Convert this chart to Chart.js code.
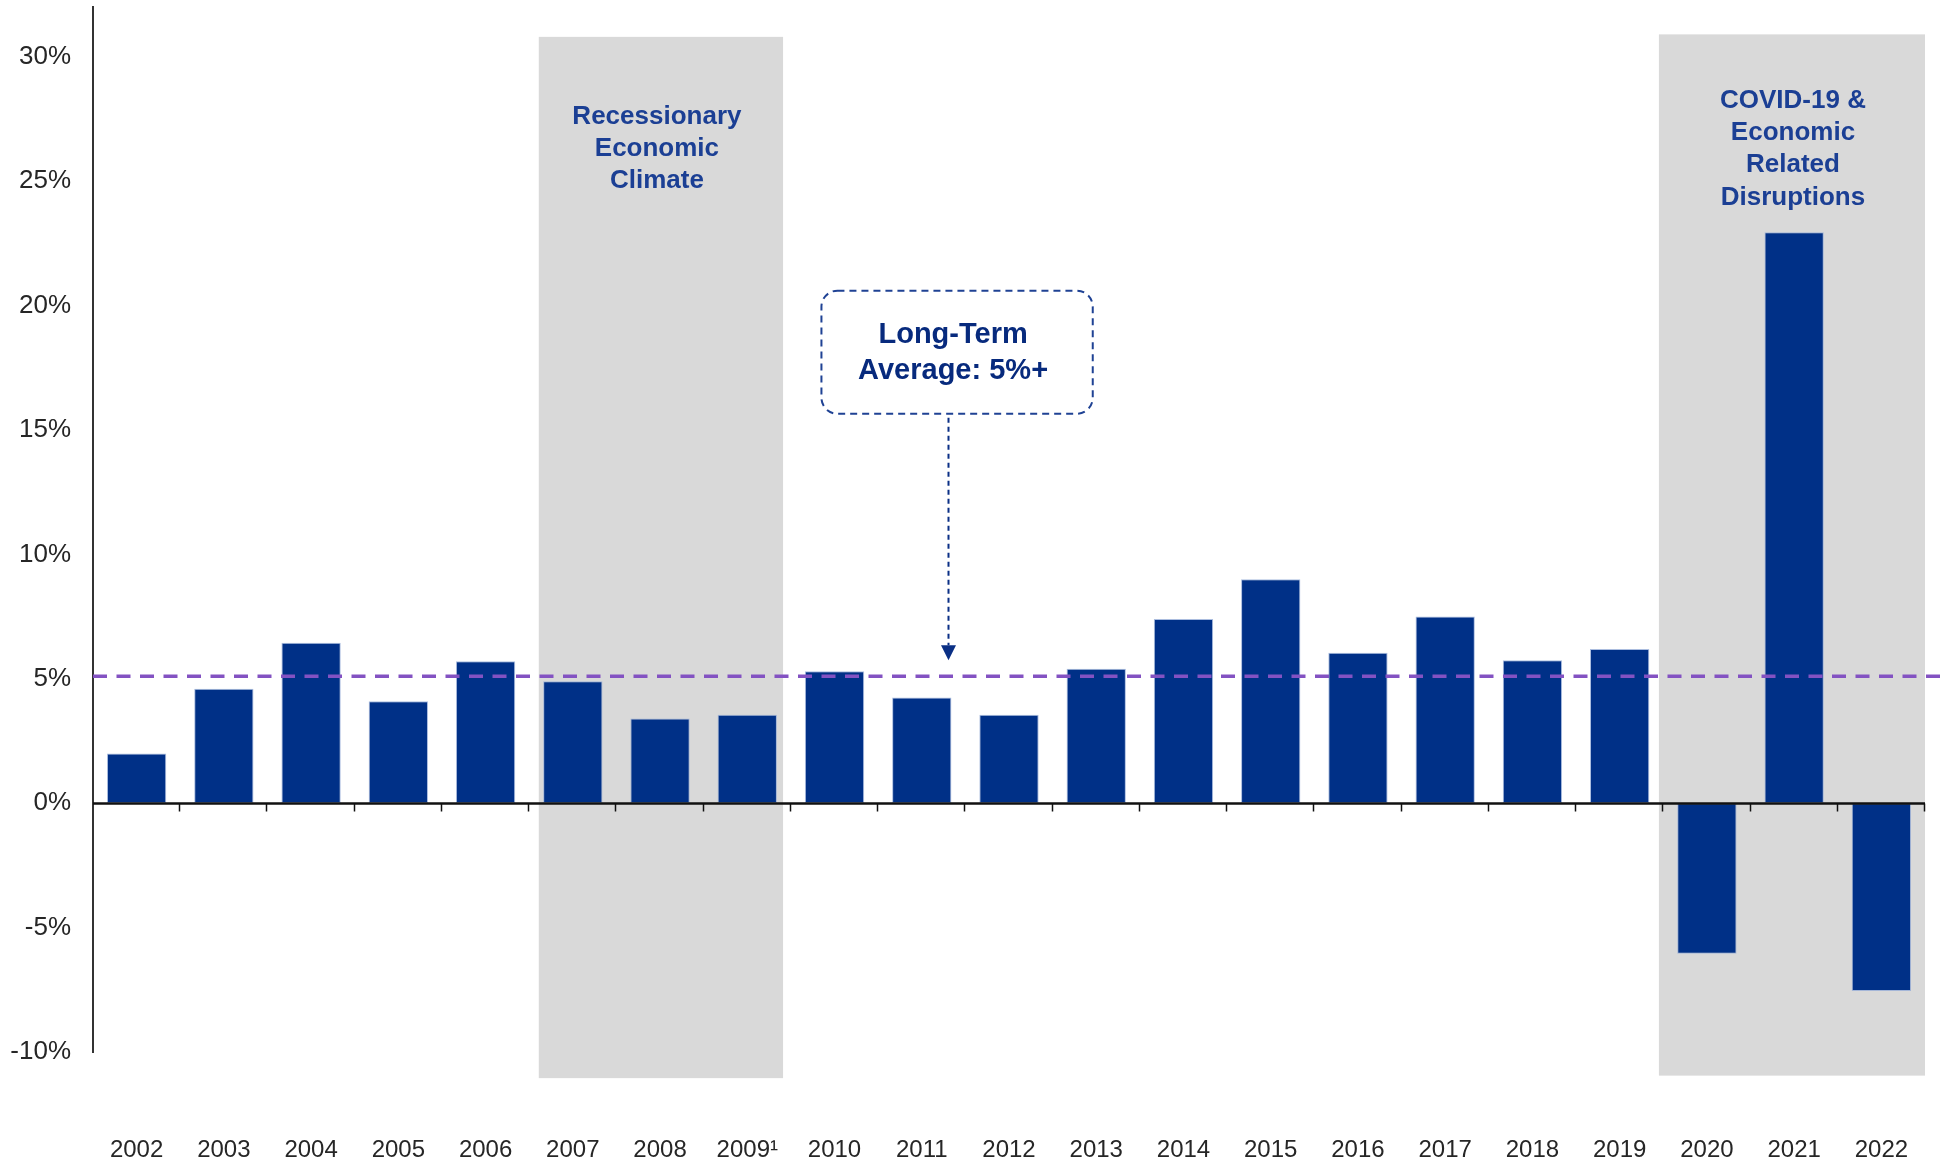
<!DOCTYPE html>
<html>
<head>
<meta charset="utf-8">
<title>Annual growth</title>
<script src="https://cdn.jsdelivr.net/npm/chart.js@4.4.1/dist/chart.umd.min.js"></script>
<style>
  html, body { margin: 0; padding: 0; background: #ffffff; }
  #wrap { width: 1946px; height: 1165px; position: relative; }
</style>
</head>
<body>
<div id="wrap"><canvas id="growthChart"></canvas></div>
<script>
// Données
const years = ['2002', '2003', '2004', '2005', '2006', '2007', '2008', '2009\u00b9', '2010', '2011',
    '2012', '2013', '2014', '2015', '2016', '2017', '2018', '2019', '2020', '2021', '2022'];
const growth = [2.0, 4.6, 6.45, 4.1, 5.7, 4.9, 3.4, 3.55, 5.3, 4.25,
    3.55, 5.4, 7.4, 9.0, 6.05, 7.5, 5.75, 6.2, -6.05, 22.95, -7.55];
const yTickValues = [-10, -5, 0, 5, 10, 15, 20, 25, 30];
const longTermAvg = 5.1;

// Zones grisées (années concernées) et leurs textes
const recessionYears = ['2007', '2008', '2009\u00b9'];
const recessionText = ['Recessionary', 'Economic', 'Climate'];
const covidYears = ['2020', '2021', '2022'];
const covidText = ['COVID-19 &', 'Economic', 'Related', 'Disruptions'];
const avgText = ['Long-Term', 'Average: 5%+'];

const fontFamily = 'Arial, "Liberation Sans", sans-serif';

// helper : position x (fractionnaire) sur l'axe des catégories
function xAt(x, v) {
    const step = x.getPixelForValue(1) - x.getPixelForValue(0);
    return x.getPixelForValue(0) + v * step;
}

// Bandes grises derrière les barres
const bandsPlugin = {
    id: 'bands',
    beforeDatasetsDraw(chart) {
        const { ctx, scales: { x, y } } = chart;
        ctx.save();
        ctx.fillStyle = '#d9d9d9';
        // récession
        let i0 = years.indexOf(recessionYears[0]);
        let i1 = years.indexOf(recessionYears[recessionYears.length - 1]);
        let l = xAt(x, i0 - 0.39), r = xAt(x, i1 + 0.41);
        let t = y.getPixelForValue(30.8), b = y.getPixelForValue(-11.05);
        ctx.fillRect(l, t, r - l, b - t);
        ctx.fillStyle = '#1b3f94';
        ctx.font = 'bold 26px ' + fontFamily;
        ctx.textAlign = 'center';
        ctx.textBaseline = 'middle';
        let cx = (l + r) / 2 - 4;
        let ty = y.getPixelForValue(27.6);
        recessionText.forEach(function (s, k) { ctx.fillText(s, cx, ty + k * 32); });

        // covid
        ctx.fillStyle = '#d9d9d9';
        i0 = years.indexOf(covidYears[0]);
        i1 = years.indexOf(covidYears[covidYears.length - 1]);
        l = xAt(x, i0 - 0.55);
        r = xAt(x, i1 + 0.5);
        t = y.getPixelForValue(30.9);
        b = y.getPixelForValue(-10.95);
        ctx.fillRect(l, t, r - l, b - t);
        ctx.fillStyle = '#1b3f94';
        cx = (l + r) / 2 + 1;
        ty = y.getPixelForValue(28.23);
        covidText.forEach(function (s, k) { ctx.fillText(s, cx, ty + k * 32.2); });
        ctx.restore();
    }
};

// Ligne de zéro avec graduations, moyenne long terme, encadré + flèche
const overlayPlugin = {
    id: 'overlay',
    afterDatasetsDraw(chart) {
        const { ctx, scales: { x, y } } = chart;
        const area = chart.chartArea;
        ctx.save();

        // ligne zéro
        const y0 = Math.round(y.getPixelForValue(0)) + 0.5;
        ctx.strokeStyle = '#111111';
        ctx.lineWidth = 2.5;
        ctx.beginPath();
        ctx.moveTo(area.left, y0);
        ctx.lineTo(area.right, y0);
        ctx.stroke();
        ctx.lineWidth = 1.5;
        for (let i = 1; i <= years.length; i++) {
            const px = Math.round(xAt(x, i - 0.5)) - 0.5;
            ctx.beginPath();
            ctx.moveTo(px, y0);
            ctx.lineTo(px, y0 + 8);
            ctx.stroke();
        }

        // moyenne long terme (pointillés violets)
        const ya = y.getPixelForValue(longTermAvg);
        ctx.strokeStyle = '#8352c2';
        ctx.lineWidth = 3.5;
        ctx.setLineDash([14, 9.5]);
        ctx.beginPath();
        ctx.moveTo(area.left, ya);
        ctx.lineTo(chart.width - 4, ya);
        ctx.stroke();

        // encadré "Long-Term Average"
        const bl = xAt(x, 7.85), br = xAt(x, 10.96);
        const bt = y.getPixelForValue(20.6), bb = y.getPixelForValue(15.65);
        ctx.strokeStyle = '#1f4294';
        ctx.lineWidth = 2;
        ctx.setLineDash([7, 5]);
        ctx.beginPath();
        ctx.roundRect(bl, bt, br - bl, bb - bt, 16);
        ctx.stroke();

        ctx.setLineDash([]);
        ctx.fillStyle = '#072a7d';
        ctx.font = 'bold 29px ' + fontFamily;
        ctx.textAlign = 'center';
        ctx.textBaseline = 'middle';
        const tcx = (bl + br) / 2 - 4;
        ctx.fillText(avgText[0], tcx, bt + 44);
        ctx.fillText(avgText[1], tcx, bt + 80);

        // flèche
        const ax = Math.round(xAt(x, 9.3)) + 0.5;
        const tip = y.getPixelForValue(5.75);
        ctx.strokeStyle = '#0a2f85';
        ctx.lineWidth = 2;
        ctx.setLineDash([5, 4]);
        ctx.beginPath();
        ctx.moveTo(ax, bb + 4);
        ctx.lineTo(ax, tip - 15);
        ctx.stroke();
        ctx.setLineDash([]);
        ctx.fillStyle = '#0a2f85';
        ctx.beginPath();
        ctx.moveTo(ax - 7.5, tip - 15);
        ctx.lineTo(ax + 7.5, tip - 15);
        ctx.lineTo(ax, tip);
        ctx.closePath();
        ctx.fill();

        ctx.restore();
    }
};

const data = {
    labels: years,
    datasets: [{
        label: 'Growth',
        data: growth,
        backgroundColor: '#003087',
        borderColor: 'rgba(150,172,215,0.8)',
        borderWidth: 1,
        borderSkipped: false,
        categoryPercentage: 1,
        barPercentage: 0.68
    }]
};

const config = {
    type: 'bar',
    data,
    options: {
        responsive: true,
        maintainAspectRatio: false,
        animation: false,
        layout: { padding: { top: 7, right: 21, bottom: 0, left: 0 } },
        plugins: {
            legend: { display: false },
            tooltip: { enabled: false }
        },
        scales: {
            x: {
                offset: true,
                grid: { display: false, drawTicks: false },
                border: { display: false },
                ticks: {
                    color: '#262626',
                    font: { family: fontFamily, size: 24 },
                    padding: 84,
                    maxRotation: 0,
                    autoSkip: false
                },
                afterFit(s) { s.height = 113; s.paddingLeft = 0; s.paddingRight = 0; }
            },
            y: {
                min: -10,
                max: 32,
                grid: { display: false, drawTicks: false },
                border: { display: true, color: '#333333', width: 2 },
                afterBuildTicks(s) { s.ticks = yTickValues.map(function (v) { return { value: v }; }); },
                ticks: {
                    color: '#262626',
                    font: { family: fontFamily, size: 26 },
                    padding: 22,
                    callback: function (v) { return v + '%'; }
                },
                afterFit(s) { s.width = 93; s.paddingTop = 0; s.paddingBottom = 0; }
            }
        }
    },
    plugins: [bandsPlugin, overlayPlugin]
};

const myChart = new Chart(document.getElementById('growthChart'), config);
</script>
</body>
</html>
